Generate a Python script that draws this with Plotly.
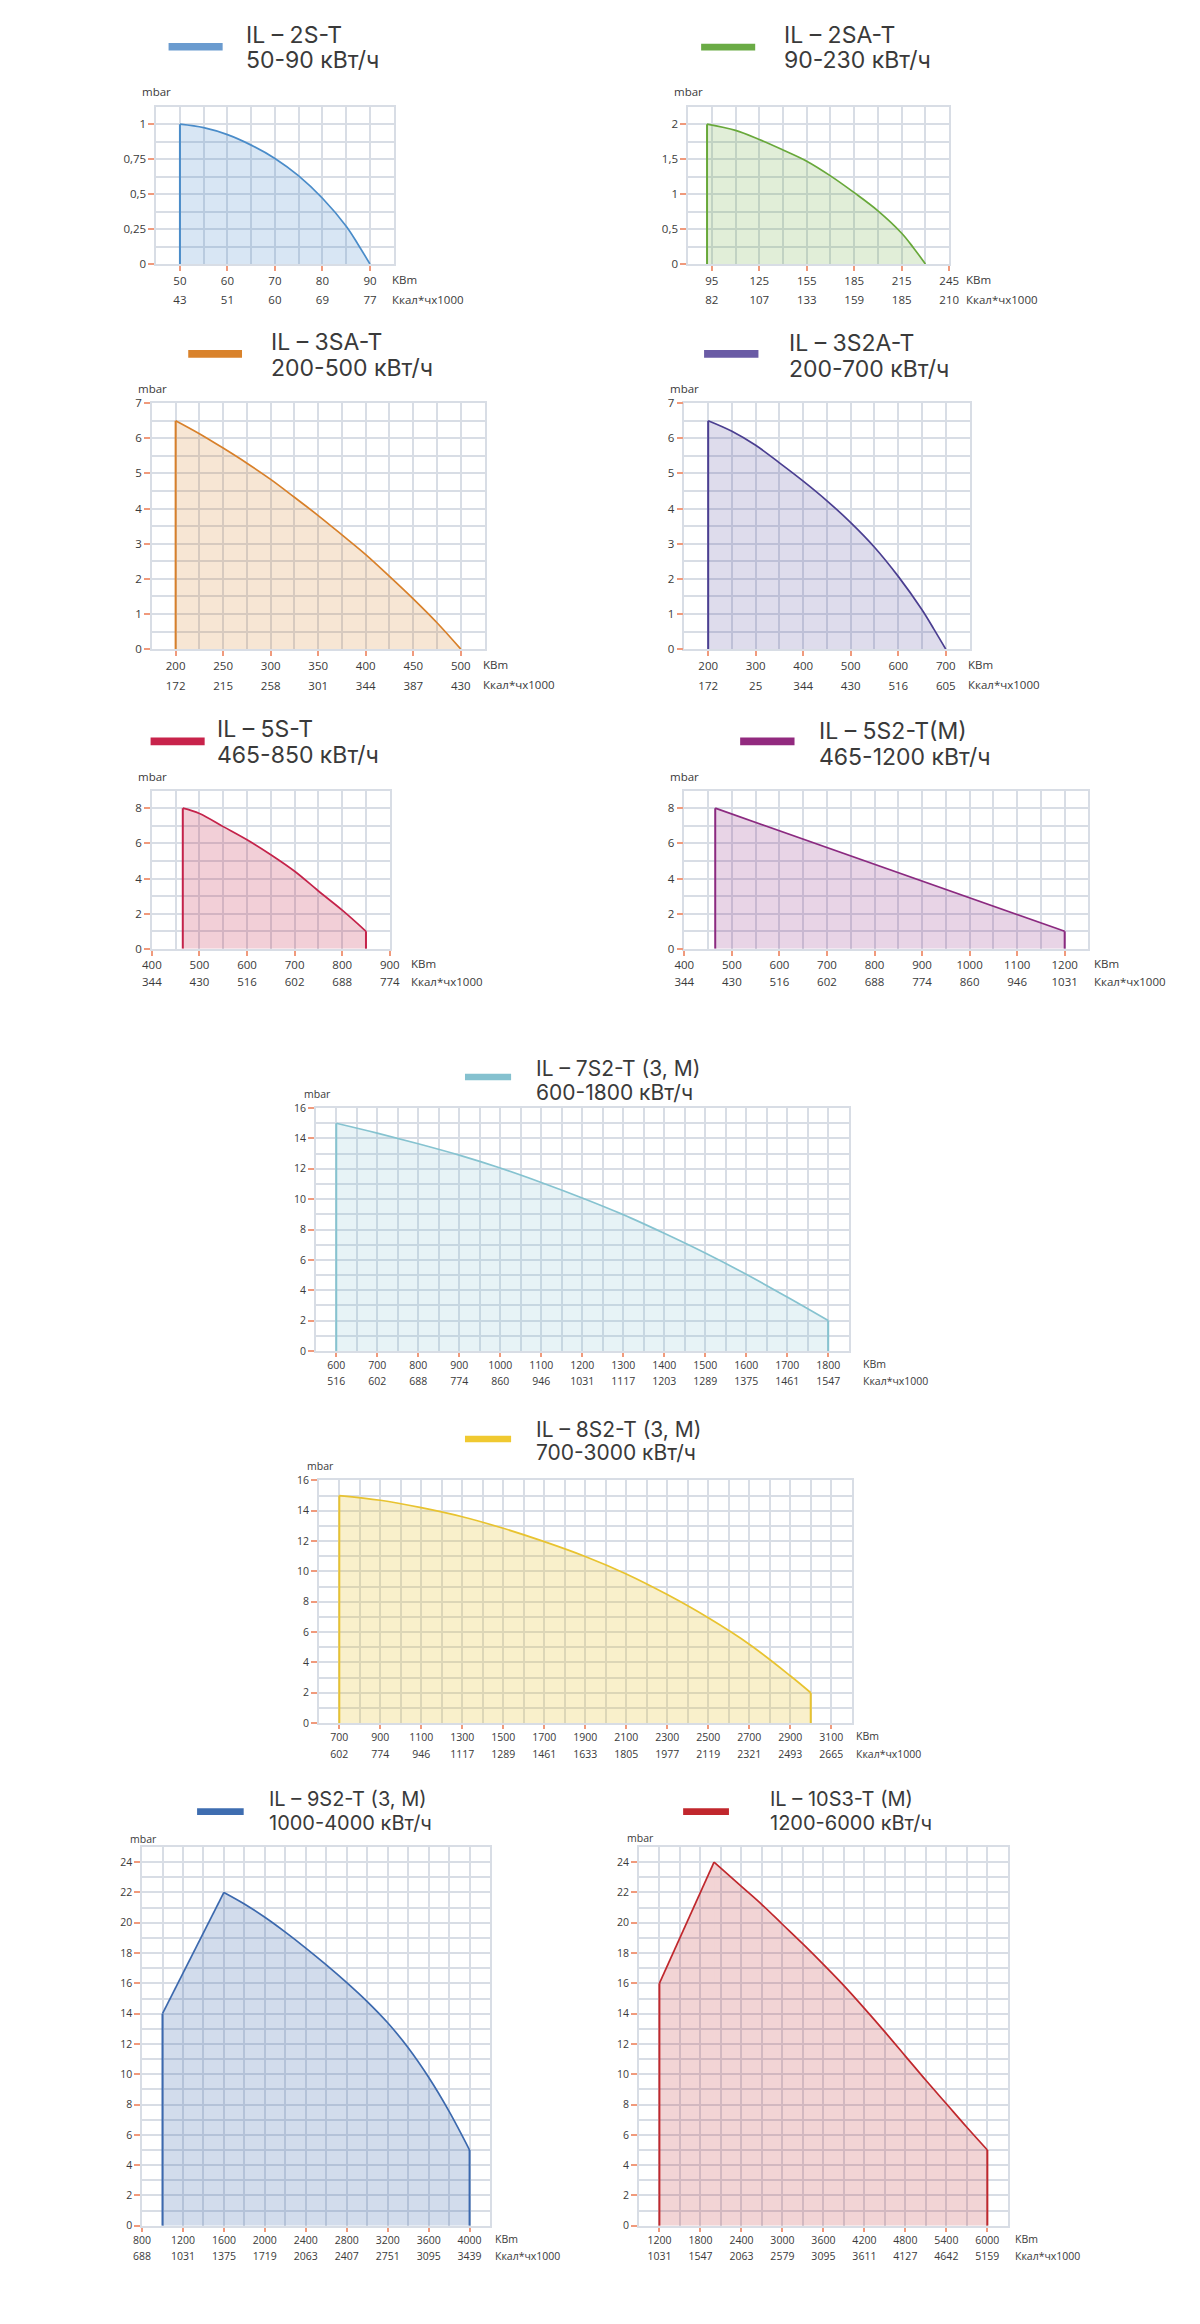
import numpy as np
import plotly.graph_objects as go

W, H = 1200, 2324
OFF = 8                      # default page body margin around the figure
FW, FH = W - 2 * OFF, H - 2 * OFF
FONT = "Open Sans"
TFONT = "Inter"
TEXT = "#3a3a3a"
GRID = "#d8dde5"
TICKC = "#f09a7c"

# ---------------- data ----------------
C1_NAME = ["IL – 2S-T", "50-90 кВт/ч"]
C1_X = [50, 55, 60, 65, 70, 75, 80, 85, 87.5, 90]
C1_Y = [1, 0.975, 0.925, 0.85, 0.755, 0.63, 0.47, 0.27, 0.14, 0]
C1_XTICKS = [50, 60, 70, 80, 90]
C1_KCAL = ["43", "51", "60", "69", "77"]
C1_YTICKS = [0, 0.25, 0.5, 0.75, 1]
C1_YLABELS = ["0", "0,25", "0,5", "0,75", "1"]

C2_NAME = ["IL – 2SA-T", "90-230 кВт/ч"]
C2_X = [92, 110, 125, 140, 155, 170, 185, 200, 215, 222.5, 230]
C2_Y = [2, 1.91, 1.78, 1.63, 1.47, 1.26, 1.02, 0.76, 0.44, 0.23, 0]
C2_XTICKS = [95, 125, 155, 185, 215, 245]
C2_KCAL = ["82", "107", "133", "159", "185", "210"]
C2_YTICKS = [0, 0.5, 1, 1.5, 2]
C2_YLABELS = ["0", "0,5", "1", "1,5", "2"]

C3_NAME = ["IL – 3SA-T", "200-500 кВт/ч"]
C3_X = [200, 225, 250, 275, 300, 325, 350, 375, 400, 425, 450, 475, 500]
C3_Y = [6.5, 6.13, 5.72, 5.29, 4.83, 4.32, 3.8, 3.25, 2.69, 2.07, 1.43, 0.75, 0]
C3_XTICKS = [200, 250, 300, 350, 400, 450, 500]
C3_KCAL = ["172", "215", "258", "301", "344", "387", "430"]
C3_YTICKS = [0, 1, 2, 3, 4, 5, 6, 7]
C3_YLABELS = ["0", "1", "2", "3", "4", "5", "6", "7"]

C4_NAME = ["IL – 3S2A-T", "200-700 кВт/ч"]
C4_X = [200, 250, 300, 350, 400, 450, 500, 550, 600, 650, 675, 700]
C4_Y = [6.5, 6.2, 5.8, 5.3, 4.78, 4.22, 3.6, 2.9, 2.07, 1.12, 0.57, 0]
C4_XTICKS = [200, 300, 400, 500, 600, 700]
C4_KCAL = ["172", "25", "344", "430", "516", "605"]
C4_YTICKS = [0, 1, 2, 3, 4, 5, 6, 7]
C4_YLABELS = ["0", "1", "2", "3", "4", "5", "6", "7"]

C5_NAME = ["IL – 5S-T", "465-850 кВт/ч"]
C5_X = [465, 500, 550, 600, 650, 700, 750, 800, 850]
C5_Y = [8, 7.7, 6.95, 6.2, 5.35, 4.41, 3.29, 2.2, 1]
C5_XTICKS = [400, 500, 600, 700, 800, 900]
C5_KCAL = ["344", "430", "516", "602", "688", "774"]
C5_YTICKS = [0, 2, 4, 6, 8]
C5_YLABELS = ["0", "2", "4", "6", "8"]

C6_NAME = ["IL – 5S2-T(M)", "465-1200 кВт/ч"]
C6_X = [465, 1200]
C6_Y = [8, 1]
C6_XTICKS = [400, 500, 600, 700, 800, 900, 1000, 1100, 1200]
C6_KCAL = ["344", "430", "516", "602", "688", "774", "860", "946", "1031"]
C6_YTICKS = [0, 2, 4, 6, 8]
C6_YLABELS = ["0", "2", "4", "6", "8"]

C7_NAME = ["IL – 7S2-T (3, M)", "600-1800 кВт/ч"]
C7_X = [600, 700, 800, 900, 1000, 1100, 1200, 1300, 1400, 1500, 1600, 1700, 1800]
C7_Y = [15, 14.35, 13.65, 12.9, 12.05, 11.1, 10.08, 8.98, 7.75, 6.45, 5.05, 3.55, 2]
C7_XTICKS = [600, 700, 800, 900, 1000, 1100, 1200, 1300, 1400, 1500, 1600, 1700, 1800]
C7_KCAL = ["516", "602", "688", "774", "860", "946", "1031", "1117", "1203", "1289", "1375", "1461", "1547"]
C7_YTICKS = [0, 2, 4, 6, 8, 10, 12, 14, 16]
C7_YLABELS = ["0", "2", "4", "6", "8", "10", "12", "14", "16"]

C8_NAME = ["IL – 8S2-T (3, M)", "700-3000 кВт/ч"]
C8_X = [700, 900, 1100, 1300, 1500, 1700, 1900, 2100, 2300, 2500, 2700, 2900, 3000]
C8_Y = [15, 14.69, 14.2, 13.6, 12.84, 11.96, 10.98, 9.83, 8.47, 6.94, 5.2, 3.12, 2]
C8_XTICKS = [700, 900, 1100, 1300, 1500, 1700, 1900, 2100, 2300, 2500, 2700, 2900, 3100]
C8_KCAL = ["602", "774", "946", "1117", "1289", "1461", "1633", "1805", "1977", "2119", "2321", "2493", "2665"]
C8_YTICKS = [0, 2, 4, 6, 8, 10, 12, 14, 16]
C8_YLABELS = ["0", "2", "4", "6", "8", "10", "12", "14", "16"]

C9_NAME = ["IL – 9S2-T (3, M)", "1000-4000 кВт/ч"]
C9_RISE_X = [1000, 1600]
C9_RISE_Y = [14, 22]
C9_X = [1600, 1800, 2000, 2200, 2400, 2600, 2800, 3000, 3200, 3400, 3600, 3800, 4000]
C9_Y = [22, 21.24, 20.36, 19.38, 18.33, 17.22, 16.05, 14.8, 13.4, 11.75, 9.8, 7.55, 5]
C9_XTICKS = [800, 1200, 1600, 2000, 2400, 2800, 3200, 3600, 4000]
C9_KCAL = ["688", "1031", "1375", "1719", "2063", "2407", "2751", "3095", "3439"]
C9_YTICKS = [0, 2, 4, 6, 8, 10, 12, 14, 16, 18, 20, 22, 24]
C9_YLABELS = ["0", "2", "4", "6", "8", "10", "12", "14", "16", "18", "20", "22", "24"]

C10_NAME = ["IL – 10S3-T (M)", "1200-6000 кВт/ч"]
C10_RISE_X = [1200, 2000]
C10_RISE_Y = [16, 24]
C10_X = [2000, 2400, 2700, 3000, 3300, 3600, 3900, 4200, 4500, 4800, 5100, 5400, 5700, 6000]
C10_Y = [24, 22.4, 21.2, 19.9, 18.6, 17.25, 15.85, 14.35, 12.8, 11.2, 9.6, 8.05, 6.5, 5]
C10_XTICKS = [1200, 1800, 2400, 3000, 3600, 4200, 4800, 5400, 6000]
C10_KCAL = ["1031", "1547", "2063", "2579", "3095", "3611", "4127", "4642", "5159"]
C10_YTICKS = [0, 2, 4, 6, 8, 10, 12, 14, 16, 18, 20, 22, 24]
C10_YLABELS = ["0", "2", "4", "6", "8", "10", "12", "14", "16", "18", "20", "22", "24"]

UNIT_X = "KBm"
UNIT_K = "Ккал*чх1000"
UNIT_Y = "mbar"

# ---------------- layout specs (page pixels) ----------------
CHARTS = [
    dict(name=C1_NAME, x=C1_X, y=C1_Y, xt=C1_XTICKS, kc=C1_KCAL, yt=C1_YTICKS, yl=C1_YLABELS,
         line="#4a8cc9", fill="rgba(77,143,204,0.22)", sw="#6a9bcf", shape="spline",
         box=(156.7, 398.3, 107.3, 265.7), xr=(45, 95), xg=5, yr=(0, 1.125), yg=0.125,
         title=(245.7, 34.7, 60.3), tfs=23, swb=(169.3, 224.3, 43.3, 50.7),
         mbar=(140, 91.7), ux=395, fs=11.5, r1=281.7, r2=301, so=27),
    dict(name=C2_NAME, x=C2_X, y=C2_Y, xt=C2_XTICKS, kc=C2_KCAL, yt=C2_YTICKS, yl=C2_YLABELS,
         line="#68a83a", fill="rgba(106,171,60,0.2)", sw="#6aab45", shape="spline",
         box=(697.7, 963.3, 107.3, 265.7), xr=(80, 245), xg=15, yr=(0, 2.25), yg=0.25,
         title=(793.3, 34.7, 60.3), tfs=23, swb=(711, 766, 44, 50.7),
         mbar=(681.7, 91.7), ux=978.5, fs=11.5, r1=281.7, r2=301, so=27),
    dict(name=C3_NAME, x=C3_X, y=C3_Y, xt=C3_XTICKS, kc=C3_KCAL, yt=C3_YTICKS, yl=C3_YLABELS,
         line="#d8802a", fill="rgba(216,128,42,0.2)", sw="#d9822b", shape="spline",
         box=(152.3, 490.7, 405.7, 653.3), xr=(175, 525), xg=25, yr=(0, 7), yg=0.5,
         title=(271.7, 343.8, 370), tfs=23, swb=(189.3, 244, 352.3, 360),
         mbar=(136, 391), ux=487, fs=11.5, r1=669, r2=689, so=28),
    dict(name=C4_NAME, x=C4_X, y=C4_Y, xt=C4_XTICKS, kc=C4_KCAL, yt=C4_YTICKS, yl=C4_YLABELS,
         line="#4b3f91", fill="rgba(91,80,160,0.2)", sw="#6a5ba5", shape="spline",
         box=(694, 984, 405.7, 653.3), xr=(150, 750), xg=50, yr=(0, 7), yg=0.5,
         title=(798.3, 345, 371), tfs=23, swb=(714, 769.3, 352.3, 360),
         mbar=(677.7, 391), ux=980.7, fs=11.5, r1=669, r2=689, so=28),
    dict(name=C5_NAME, x=C5_X, y=C5_Y, xt=C5_XTICKS, kc=C5_KCAL, yt=C5_YTICKS, yl=C5_YLABELS,
         line="#c4234a", fill="rgba(196,35,74,0.22)", sw="#c8234b", shape="spline",
         box=(152.3, 394.3, 795.7, 955), xr=(400, 900), xg=50, yr=(0, 9), yg=1,
         title=(216.7, 733.8, 759.5), tfs=23, swb=(151, 206, 742.3, 750),
         mbar=(136, 782), ux=414.3, fs=11.5, r1=970, r2=988, so=25),
    dict(name=C6_NAME, x=C6_X, y=C6_Y, xt=C6_XTICKS, kc=C6_KCAL, yt=C6_YTICKS, yl=C6_YLABELS,
         line="#8b2a80", fill="rgba(139,42,128,0.2)", sw="#922a7f", shape="linear",
         box=(693.9, 1105, 795.7, 955), xr=(400, 1250), xg=50, yr=(0, 9), yg=1,
         title=(828.6, 735.8, 761.7), tfs=23, swb=(750.7, 806, 742.3, 750),
         mbar=(677.5, 782), ux=1108.6, fs=11.5, r1=970, r2=988, so=25),
    dict(name=C7_NAME, x=C7_X, y=C7_Y, xt=C7_XTICKS, kc=C7_KCAL, yt=C7_YTICKS, yl=C7_YLABELS,
         line="#86c3d0", fill="rgba(134,195,208,0.2)", sw="#85c1cf", shape="spline",
         box=(319, 861.1, 1115.3, 1359.7), xr=(550, 1850), xg=50, yr=(0, 16), yg=1,
         title=(541.5, 1075.5, 1099.5), tfs=21, swb=(470.8, 517.7, 1080.7, 1087.3),
         mbar=(305.2, 1101), ux=874.1, fs=10.5, r1=1372.7, r2=1390, so=23),
    dict(name=C8_NAME, x=C8_X, y=C8_Y, xt=C8_XTICKS, kc=C8_KCAL, yt=C8_YTICKS, yl=C8_YLABELS,
         line="#e8c330", fill="rgba(232,195,48,0.25)", sw="#f0c930", shape="spline",
         box=(322.1, 864.2, 1490, 1734.3), xr=(600, 3200), xg=100, yr=(0, 16), yg=1,
         title=(541.5, 1438.5, 1462), tfs=21, swb=(470.8, 517.7, 1445, 1451.7),
         mbar=(308.2, 1476), ux=866, fs=10.5, r1=1747.7, r2=1765, so=23),
    dict(name=C9_NAME, x=C9_X, y=C9_Y, rx=C9_RISE_X, ry=C9_RISE_Y,
         xt=C9_XTICKS, kc=C9_KCAL, yt=C9_YTICKS, yl=C9_YLABELS,
         line="#3c69ae", fill="rgba(60,105,174,0.23)", sw="#3e6db0", shape="spline",
         box=(142.3, 496.3, 1859, 2240.3), xr=(800, 4200), xg=200, yr=(0, 25), yg=1,
         title=(269.3, 1811, 1834.5), tfs=20, swb=(198.3, 245.7, 1820, 1826.7),
         mbar=(128, 1851), ux=499, fs=10.5, r1=2254, r2=2271, so=23),
    dict(name=C10_NAME, x=C10_X, y=C10_Y, rx=C10_RISE_X, ry=C10_RISE_Y,
         xt=C10_XTICKS, kc=C10_KCAL, yt=C10_YTICKS, yl=C10_YLABELS,
         line="#c0282d", fill="rgba(192,40,45,0.2)", sw="#c1272d", shape="spline",
         box=(647.7, 1023, 1859, 2240.3), xr=(900, 6300), xg=300, yr=(0, 25), yg=1,
         title=(779, 1811, 1834.5), tfs=20, swb=(692.7, 739.3, 1820, 1826.7),
         mbar=(634, 1850), ux=1028.3, fs=10.5, r1=2254, r2=2271, so=23),
]


def px(v):
    return (v - OFF) / FW


def py(v):
    return 1 - (v - OFF) / FH


fig = go.Figure()
layout = {}
annotations = []
shapes = []
n = len(CHARTS)

for i, c in enumerate(CHARTS, start=1):
    l, r, t, b = c["box"]
    xa, ya, xo = f"x{i}", f"y{i}", f"x{i + n}"
    lw = 1.7
    if "rx" in c:
        fig.add_trace(go.Scatter(
            x=c["rx"], y=c["ry"], mode="lines", fill="tozeroy",
            line=dict(color=c["line"], width=lw), fillcolor=c["fill"],
            xaxis=xa, yaxis=ya, showlegend=False, hoverinfo="skip"))
        sx, sy = c["rx"][0], c["ry"][0]
    else:
        sx, sy = c["x"][0], c["y"][0]
    fig.add_trace(go.Scatter(
        x=c["x"], y=c["y"], mode="lines", fill="tozeroy",
        line=dict(color=c["line"], width=lw, shape=c["shape"], smoothing=1.0),
        fillcolor=c["fill"], xaxis=xa, yaxis=ya, showlegend=False, hoverinfo="skip"))
    ex, ey = c["x"][-1], c["y"][-1]
    # vertical boundary edges of the working field
    fig.add_trace(go.Scatter(
        x=[sx, sx, None, ex, ex], y=[0, sy, None, ey, 0], mode="lines",
        line=dict(color=c["line"], width=2), xaxis=xa, yaxis=ya,
        showlegend=False, hoverinfo="skip"))
    fig.add_trace(go.Scatter(
        x=c["xt"], y=[c["yr"][0]] * len(c["xt"]), mode="markers",
        marker=dict(opacity=0, size=1), xaxis=xo, yaxis=ya,
        showlegend=False, hoverinfo="skip"))

    xminor = list(np.arange(c["xr"][0], c["xr"][1] + c["xg"] / 2, c["xg"]))
    yminor = list(np.arange(c["yr"][0], c["yr"][1] + c["yg"] / 2, c["yg"]))
    fs = c["fs"]
    layout[f"xaxis{i}"] = dict(
        domain=[px(l), px(r)], anchor=ya, range=list(c["xr"]),
        tickmode="array", tickvals=c["xt"], ticktext=[str(v) for v in c["xt"]],
        ticks="outside", ticklen=5 if fs > 11 else 4, tickwidth=1.5, tickcolor=TICKC,
        showgrid=True, gridcolor=GRID, gridwidth=1.5,
        minor=dict(tickmode="array", tickvals=xminor, showgrid=True,
                   gridcolor=GRID, gridwidth=1.5, ticks=""),
        showline=True, linecolor=GRID, linewidth=1.5, mirror=True,
        zeroline=False, tickfont=dict(size=fs, color=TEXT, family=FONT),
        fixedrange=True)
    layout[f"xaxis{i + n}"] = dict(
        overlaying=xa, anchor=ya, side="bottom", range=list(c["xr"]),
        tickmode="array", tickvals=c["xt"], ticktext=c["kc"],
        ticks="", ticklen=0, showgrid=False, showline=False, zeroline=False,
        ticklabelstandoff=c["so"],
        tickfont=dict(size=fs, color=TEXT, family=FONT), fixedrange=True)
    layout[f"yaxis{i}"] = dict(
        domain=[py(b), py(t)], anchor=xa, range=list(c["yr"]),
        tickmode="array", tickvals=c["yt"], ticktext=c["yl"],
        ticks="outside", ticklen=6, tickwidth=1.5, tickcolor=TICKC,
        showgrid=True, gridcolor=GRID, gridwidth=1.5,
        minor=dict(tickmode="array", tickvals=yminor, showgrid=True,
                   gridcolor=GRID, gridwidth=1.5, ticks=""),
        showline=True, linecolor=GRID, linewidth=1.5, mirror=True,
        zeroline=False, tickfont=dict(size=fs, color=TEXT, family=FONT),
        fixedrange=True)

    tx, ty1, ty2 = c["title"]
    for txt, yy in ((c["name"][0], ty1), (c["name"][1], ty2)):
        annotations.append(dict(text=txt, x=px(tx), y=py(yy), xref="paper", yref="paper",
                                xanchor="left", yanchor="middle", showarrow=False,
                                font=dict(size=c["tfs"], color=TEXT, family=TFONT)))
    mx, my = c["mbar"]
    annotations.append(dict(text=UNIT_Y, x=px(mx), y=py(my), xref="paper", yref="paper",
                            xanchor="left", yanchor="middle", showarrow=False,
                            font=dict(size=fs, color=TEXT, family=FONT)))
    for txt, yy in ((UNIT_X, c["r1"]), (UNIT_K, c["r2"])):
        annotations.append(dict(text=txt, x=px(c["ux"]), y=py(yy), xref="paper", yref="paper",
                                xanchor="left", yanchor="middle", showarrow=False,
                                font=dict(size=fs, color=TEXT, family=FONT)))
    x0, x1, y0, y1 = c["swb"]
    shapes.append(dict(type="rect", xref="paper", yref="paper",
                       x0=px(x0), x1=px(x1), y0=py(y1), y1=py(y0),
                       fillcolor=c["sw"], line=dict(width=0), layer="above"))

fig.update_layout(
    width=FW, height=FH, margin=dict(l=0, r=0, t=0, b=0),
    paper_bgcolor="white", plot_bgcolor="white",
    font=dict(family=FONT, color=TEXT),
    annotations=annotations, shapes=shapes, **layout)

fig.write_html("out.html", config={"displayModeBar": False})
